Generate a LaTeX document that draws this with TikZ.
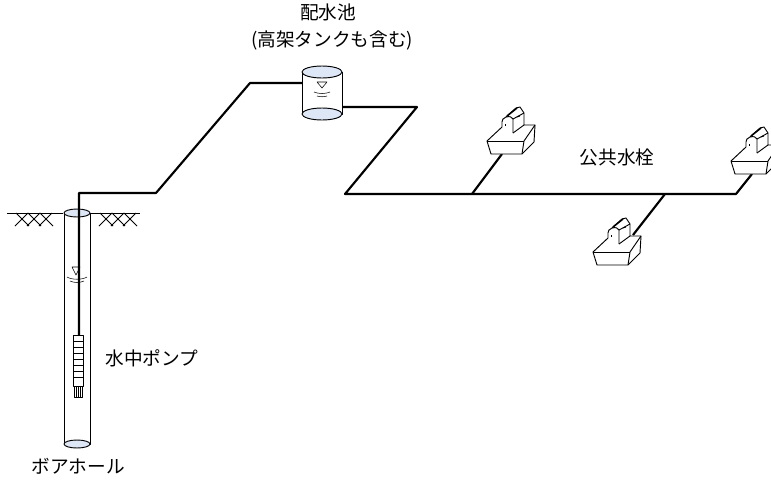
\documentclass[tikz,border=0pt]{standalone}
\usepackage{fontspec}
\newfontfamily\jp{Noto Sans CJK JP}
\definecolor{water}{RGB}{221,231,245}

% ground line with hatching below it, from x to x in px
\newcommand{\ground}[2]
{
	\draw[outline] (#1,213) -- (#2,213);
	\foreach \i in {0,1,2}
	{
		\draw[outline] ($(#1,226)+(8+12*\i,0)$) -- ($(#1,213)+(21+12*\i,0)$);
		\draw[outline] ($(#1,213)+(9+12*\i,0)$) -- ($(#1,226)+(22+12*\i,0)$);
	}
}

% public tap, x and y of the front bottom corner of the basin in px
\newcommand{\faucet}[2]
{
	\begin{scope}[shift={(#1,#2)}]
	% outline, filled white over the pipe end
	\draw[outline, fill=white] (-4,-13) -- (0,0) -- (31,0) -- (43,-12) -- (44,-29) -- (33,-29)
		-- (33,-41) -- (29,-47) -- (25,-46) -- (15,-37)
		.. controls (12,-36) and (11,-34) .. (11,-32) -- (11,-27) -- cycle;
	% basin edges
	\draw[outline] (-4,-13) -- (33,-13);
	\draw[outline] (31,0) -- (33,-13) -- (44,-29);
	\draw[outline] (22,-21) -- (33,-29);
	% tap
	\draw[outline] (22,-21) -- (22,-35) -- (33,-41);
	\draw[outline] (15,-37) .. controls (19,-38) and (21,-37) .. (22,-35);
	\draw[line width=1.2pt] (16,-38) -- (26,-46);
	\draw[outline] (14,-30) -- (14,-28);
	\draw[outline] (26,-37) -- (29,-38);
	\end{scope}
}

\usetikzlibrary{calc}

\begin{document}
\begin{tikzpicture}[x=0.75pt, y=-0.75pt, line join=round,
	pipe/.style={line width=1.6pt},
	outline/.style={line width=0.7pt},
	lbl/.style={font=\jp\fontsize{14}{17}\selectfont, inner sep=0pt}]
	\useasboundingbox (0,0) rectangle (771,479);

	% labels
	\node[lbl] (tanklbl) at (328,12) {配水池};
	\node[lbl] (tanknote) at (332,40) {(高架タンクも含む)};
	\node[lbl] (taplbl) at (617,157) {公共水栓};
	\node[lbl] (pumplbl) at (152,358) {水中ポンプ};
	\node[lbl] (holelbl) at (78,466) {ボアホール};

	% ground
	\ground{7}{63};
	\ground{91}{140};

	% borehole
	\draw[outline, fill=white] (64,213) -- (64,444) -- (90,444) -- (90,213);
	\draw[outline, fill=water] (77,444) ellipse (13 and 4);
	\draw[outline, fill=water] (77,213) ellipse (13 and 4);
	% water level in the borehole
	\draw[thin] (72,267) -- (80,267) -- (76,275) -- cycle;
	\draw[thin] (67,277) .. controls (72,280) and (82,280) .. (87,277);
	\draw[thin] (70,281) .. controls (74,283) and (80,283) .. (84,281);

	% pipe bends
	\coordinate (pump) at (79,335);
	\coordinate (b1) at (79,193);
	\coordinate (b2) at (156,193);
	\coordinate (b3) at (250,83);
	\coordinate (tankin) at (302,83);
	\coordinate (tankout) at (342,107);
	\coordinate (b4) at (417,107);
	\coordinate (b5) at (345,194);
	\coordinate (j1) at (472,194);
	\coordinate (j2) at (665,194);
	\coordinate (b6) at (736,194);
	\coordinate (tap1) at (502,154);
	\coordinate (tap2) at (633,235);
	\coordinate (tap3) at (752,174);

	\draw[pipe] (pump) -- (b1) -- (b2) -- (b3) -- (tankin);
	\draw[pipe] (tankout) -- (b4) -- (b5) -- (b6) -- (tap3);
	\draw[pipe] (j1) -- (tap1);
	\draw[pipe] (j2) -- (tap2);

	% submersible pump
	\draw[outline, fill=white] (73,335) rectangle (83,386);
	\foreach \y in {341,347,...,381}
		\draw[thin] (73,\y) -- (83,\y);
	\draw[outline, fill=white] (74,386) rectangle (82,397);
	\foreach \x in {76,78,80}
		\draw[thin] (\x,386) -- (\x,397);

	% distribution tank
	\draw[outline, fill=white] (302,72) -- (302,114) -- (342,114) -- (342,72);
	\draw[outline, fill=water] (322,114) ellipse (20 and 6);
	\draw[outline, fill=water] (322,72) ellipse (20 and 6);
	\draw[thin] (317,82) -- (327,82) -- (322,88) -- cycle;
	\draw[thin] (314,92) .. controls (318,94) and (326,94) .. (330,92);
	\draw[thin] (317,96) .. controls (320,97) and (324,97) .. (327,96);

	% public taps
	\faucet{491}{154};
	\faucet{597}{265};
	\faucet{735}{174};
\end{tikzpicture}
\end{document}
